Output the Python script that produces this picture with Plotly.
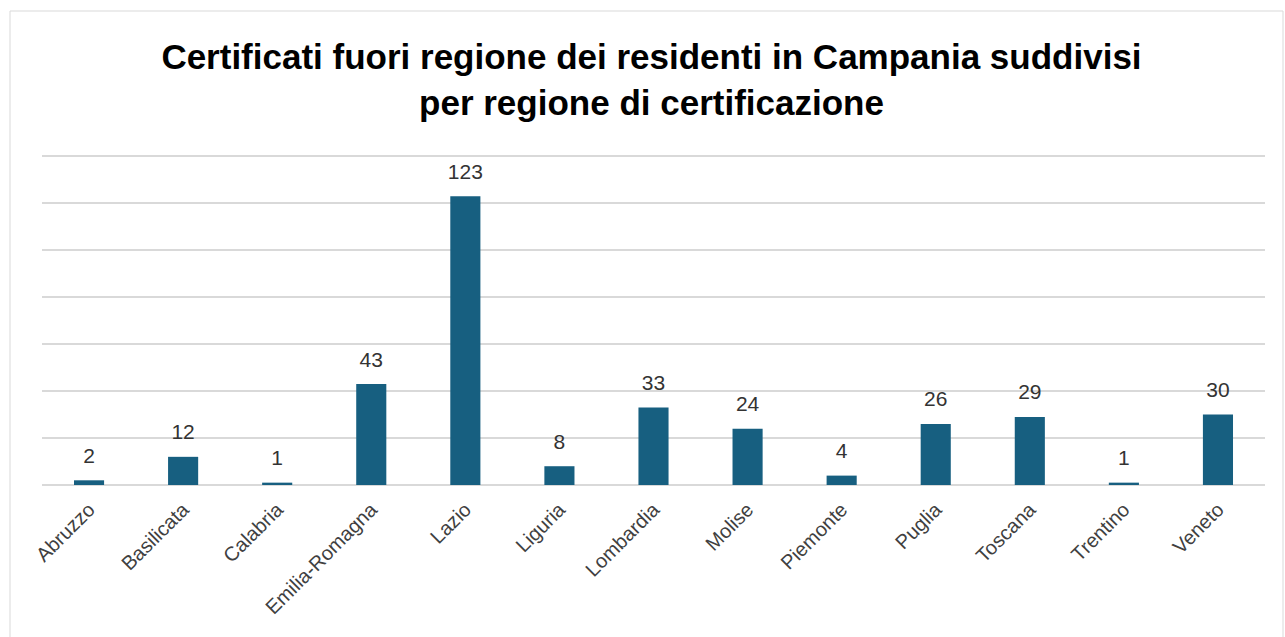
import plotly.graph_objects as go

regions = ["Abruzzo", "Basilicata", "Calabria", "Emilia-Romagna", "Lazio", "Liguria",
           "Lombardia", "Molise", "Piemonte", "Puglia", "Toscana", "Trentino", "Veneto"]
certificati = [2, 12, 1, 43, 123, 8, 33, 24, 4, 26, 29, 1, 30]

title_text = "Certificati fuori regione dei residenti in Campania suddivisi<br>per regione di certificazione"
FONT = "Liberation Sans, Arial, sans-serif"

fig = go.Figure()
fig.add_trace(go.Bar(
    x=regions, y=certificati,
    marker=dict(color="#175f80", line=dict(width=0)),
    hoverinfo="x+y",
))
fig.add_trace(go.Scatter(
    x=regions, y=certificati,
    mode="markers+text",
    marker=dict(size=18, color="rgba(0,0,0,0)"),
    text=[str(v) for v in certificati],
    textposition="top center",
    textfont=dict(family=FONT, size=21, color="#333333"),
    cliponaxis=False,
    hoverinfo="skip",
))

fig.update_layout(
    width=1285, height=637,
    margin=dict(l=42, r=20, t=154, b=152),
    paper_bgcolor="white", plot_bgcolor="white",
    bargap=0.68,
    showlegend=False,
    title=dict(text=title_text, x=0.507, xanchor="center", y=0.891, yanchor="middle",
               font=dict(family=FONT, size=35, color="#000000", weight="bold")),
    xaxis=dict(range=[-0.5, len(regions) - 0.5], tickangle=-45, showgrid=False,
               showline=False, ticks="", ticklabelstandoff=8,
               tickfont=dict(family=FONT, size=20, color="#404040")),
    yaxis=dict(range=[0, 141], tickvals=[20, 40, 60, 80, 100, 120, 140],
               showgrid=True, gridcolor="#d9d9d9", gridwidth=2,
               showticklabels=False, zeroline=True, zerolinecolor="#d9d9d9", zerolinewidth=2,
               showline=False, ticks=""),
    shapes=[dict(type="rect", xref="paper", yref="paper",
                 x0=(10 - 42) / 1223, x1=(1283 - 42) / 1223,
                 y0=-0.6, y1=(485 - 11) / 331,
                 line=dict(color="#d9d9d9", width=1), fillcolor="rgba(0,0,0,0)", layer="below")],
)

fig.write_html("out.html", config={"displayModeBar": False},
               post_script="document.body.style.margin='0';")
